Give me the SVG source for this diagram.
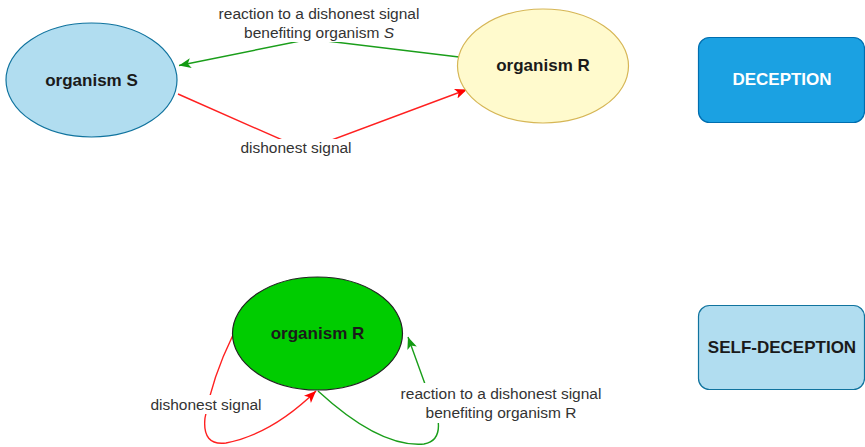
<svg xmlns="http://www.w3.org/2000/svg" width="865" height="447" viewBox="0 0 865 447">
<defs>
<style>
.node{font-family:"Liberation Sans",Arial,sans-serif;font-weight:bold;font-size:17px;text-anchor:middle;fill:#1a1a1a}
.lbl{font-family:"Liberation Sans",Arial,sans-serif;font-size:15.5px;text-anchor:middle;fill:#333}
.red{fill:none;stroke:#ff2020;stroke-width:1.4}
.green{fill:none;stroke:#1a9e1a;stroke-width:1.4}
.bg{fill:#fff}
</style>
<marker id="ar" markerUnits="userSpaceOnUse" markerWidth="14" markerHeight="12" refX="12" refY="5" orient="auto" viewBox="0 0 14 10">
<path d="M0,0 L12,5 L0,10 L3,5 z" fill="#ff0000"/>
</marker>
<marker id="ag" markerUnits="userSpaceOnUse" markerWidth="14" markerHeight="12" refX="12" refY="5" orient="auto" viewBox="0 0 14 10">
<path d="M0,0 L12,5 L0,10 L3,5 z" fill="#129a12"/>
</marker>
</defs>
<rect width="865" height="447" fill="#fff"/>
<g id="connectors">
<path class="green" d="M459,57 L310,39 L179,65.5" marker-end="url(#ag)"/>
<path class="red" d="M178,94 L305,150 L467,89.5" marker-end="url(#ar)"/>
<path class="red" d="M233,335 Q212,378 205,418 Q202,446 226,443 Q272,434 316,391" marker-end="url(#ar)"/>
<path class="green" d="M318,391 Q380,448 424,444 Q441,441 438,420 L408,337" marker-end="url(#ag)"/>
<rect class="bg" x="216" y="3" width="206" height="39"/>
<rect class="bg" x="238" y="139" width="116" height="19"/>
<rect class="bg" x="148" y="395" width="116" height="19"/>
<rect class="bg" x="398" y="383" width="207" height="40"/>
<text class="lbl" x="319" y="19">reaction to a dishonest signal</text>
<text class="lbl" x="319" y="38">benefiting organism <tspan font-style="italic">S</tspan></text>
<text class="lbl" x="296" y="153">dishonest signal</text>
<text class="lbl" x="206" y="410">dishonest signal</text>
<text class="lbl" x="501" y="399">reaction to a dishonest signal</text>
<text class="lbl" x="501" y="418">benefiting organism R</text>
</g>
<g id="organismS">
<ellipse cx="91.5" cy="80" rx="85.5" ry="57" fill="#b1ddf0" stroke="#10739e" stroke-width="1.2"/>
<text class="node" x="91.5" y="86">organism S</text>
</g>
<g id="organismR">
<ellipse cx="543" cy="66" rx="85.5" ry="57" fill="#fffacd" stroke="#d6b656" stroke-width="1.2"/>
<text class="node" x="543" y="71">organism R</text>
</g>
<g id="deception">
<rect x="698.5" y="37.5" width="166" height="85" rx="11" fill="#1ba1e2" stroke="#006eaf" stroke-width="1.2"/>
<text class="node" x="782" y="85" fill="#fff" style="fill:#fff">DECEPTION</text>
</g>
<g id="organismR2">
<ellipse cx="317.5" cy="333.5" rx="85" ry="56.5" fill="#00cc00" stroke="#222" stroke-width="1.2"/>
<text class="node" x="317.5" y="339">organism R</text>
</g>
<g id="selfdeception">
<rect x="698.5" y="305.5" width="166" height="84" rx="11" fill="#b1ddf0" stroke="#10739e" stroke-width="1.2"/>
<text class="node" x="782" y="353">SELF-DECEPTION</text>
</g>
</svg>
